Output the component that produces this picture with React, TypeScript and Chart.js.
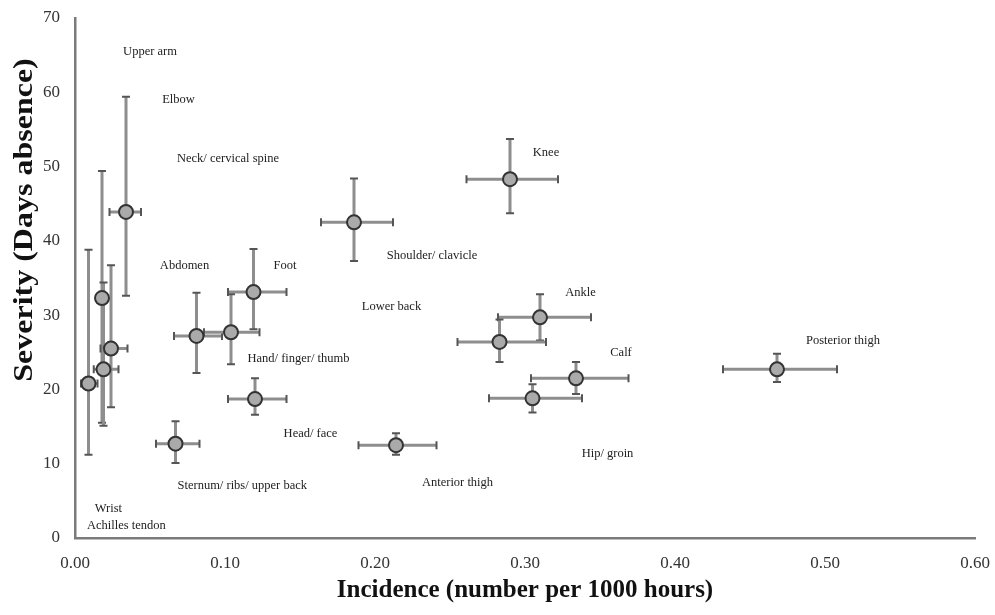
import React, { useEffect, useRef } from "react";
import { Chart, registerables } from "chart.js";

Chart.register(...registerables);

// Injury locations (labels) and their label anchor positions in data units
const labelNames = [
  "Upper arm", "Elbow", "Neck/ cervical spine", "Abdomen", "Foot", "Knee",
  "Shoulder/ clavicle", "Lower back", "Ankle", "Hand/ finger/ thumb",
  "Posterior thigh", "Calf", "Head/ face", "Hip/ groin",
  "Sternum/ ribs/ upper back", "Anterior thigh", "Wrist", "Achilles tendon",
];
const labelX = [0.050, 0.069, 0.102, 0.073, 0.140, 0.314, 0.238, 0.211, 0.337, 0.149, 0.512, 0.364, 0.157, 0.355, 0.1115, 0.255, 0.0223, 0.0343];
const labelY = [65.5, 59.0, 51.0, 36.7, 36.6, 51.8, 38.0, 31.2, 33.0, 24.2, 26.6, 24.9, 14.0, 11.4, 7.1, 7.5, 4.0, 1.6];

// Points: incidence (x) and severity (y) with confidence intervals
const incidence = [0.034, 0.018, 0.024, 0.019, 0.009, 0.119, 0.081, 0.104, 0.120, 0.067, 0.186, 0.290, 0.310, 0.283, 0.334, 0.305, 0.214, 0.468];
const severity = [43.9, 32.3, 25.5, 22.7, 20.8, 33.1, 27.2, 27.7, 18.7, 12.7, 42.5, 48.3, 29.7, 26.4, 21.5, 18.8, 12.5, 22.7];
const xLow = [0.023, 0.014, 0.017, 0.0125, 0.004, 0.102, 0.066, 0.086, 0.102, 0.054, 0.164, 0.261, 0.282, 0.255, 0.304, 0.276, 0.189, 0.432];
const xHigh = [0.044, 0.022, 0.035, 0.029, 0.015, 0.141, 0.098, 0.123, 0.141, 0.083, 0.212, 0.322, 0.344, 0.314, 0.369, 0.338, 0.241, 0.508];
const yLow = [32.6, 15.5, 17.6, 15.1, 11.2, 28.1, 22.2, 23.4, 16.6, 10.1, 37.3, 43.7, 26.6, 23.7, 19.4, 16.9, 11.2, 21.0];
const yHigh = [59.4, 49.4, 36.7, 34.4, 38.8, 38.9, 33.0, 32.8, 21.5, 15.7, 48.4, 53.7, 32.8, 29.4, 23.7, 20.7, 14.1, 24.8];

const xTitle = "Incidence (number per 1000 hours)";
const yTitle = "Severity (Days absence)";

const SERIF = '"Liberation Serif", "Times New Roman", serif';

const errorBarsPlugin = {
  id: "errorBars",
  beforeDatasetsDraw(chart: any) {
    const { ctx, scales } = chart;
    const x = scales.x;
    const y = scales.y;
    ctx.save();
    const cap = 4;
    for (let i = 0; i < incidence.length; i++) {
      const cx = x.getPixelForValue(incidence[i]);
      const cy = y.getPixelForValue(severity[i]);
      const xl = x.getPixelForValue(xLow[i]);
      const xh = x.getPixelForValue(xHigh[i]);
      const yl = y.getPixelForValue(yLow[i]);
      const yh = y.getPixelForValue(yHigh[i]);
      ctx.strokeStyle = "#8e8e8e";
      ctx.lineWidth = 3;
      ctx.beginPath();
      ctx.moveTo(xl, cy);
      ctx.lineTo(xh, cy);
      ctx.moveTo(cx, yh);
      ctx.lineTo(cx, yl);
      ctx.stroke();
      ctx.strokeStyle = "#555";
      ctx.lineWidth = 2;
      ctx.beginPath();
      ctx.moveTo(xl, cy - cap);
      ctx.lineTo(xl, cy + cap);
      ctx.moveTo(xh, cy - cap);
      ctx.lineTo(xh, cy + cap);
      ctx.moveTo(cx - cap, yl);
      ctx.lineTo(cx + cap, yl);
      ctx.moveTo(cx - cap, yh);
      ctx.lineTo(cx + cap, yh);
      ctx.stroke();
    }
    ctx.restore();
  },
};

const labelsPlugin = {
  id: "pointLabels",
  afterDatasetsDraw(chart: any) {
    const { ctx, scales } = chart;
    ctx.save();
    ctx.font = `12.5px ${SERIF}`;
    ctx.fillStyle = "#222";
    ctx.textAlign = "center";
    ctx.textBaseline = "middle";
    for (let i = 0; i < labelNames.length; i++) {
      ctx.fillText(labelNames[i], scales.x.getPixelForValue(labelX[i]), scales.y.getPixelForValue(labelY[i]));
    }
    ctx.restore();
  },
};

const yTitlePlugin = {
  id: "yTitle",
  afterDraw(chart: any) {
    const { ctx } = chart;
    ctx.save();
    ctx.translate(25, 220);
    ctx.rotate(-Math.PI / 2);
    ctx.scale(1, 0.85);
    ctx.font = `bold 32px ${SERIF}`;
    ctx.fillStyle = "#111";
    ctx.textAlign = "center";
    ctx.textBaseline = "middle";
    ctx.fillText(yTitle, 0, 0);
    ctx.restore();
  },
};

export default function App() {
  const canvasRef = useRef<HTMLCanvasElement | null>(null);

  useEffect(() => {
    if (!canvasRef.current) return;
    const points = incidence.map((v, i) => ({ x: v, y: severity[i] }));
    const chart = new Chart(canvasRef.current, {
      type: "scatter",
      data: {
        datasets: [
          {
            data: points,
            pointRadius: 7,
            pointHoverRadius: 7,
            pointBackgroundColor: "#aaaaaa",
            pointBorderColor: "#333",
            pointBorderWidth: 2,
          },
        ],
      },
      options: {
        animation: false,
        responsive: true,
        maintainAspectRatio: false,
        layout: { padding: { left: 0, right: 20, top: 18, bottom: 0 } },
        plugins: {
          legend: { display: false },
          tooltip: { enabled: false },
        },
        scales: {
          x: {
            type: "linear",
            min: 0,
            max: 0.6,
            grid: { display: false, drawTicks: false, tickLength: 0 },
            border: { display: true, color: "#7a7a7a", width: 2.5 },
            ticks: {
              stepSize: 0.1,
              padding: 15,
              color: "#333",
              font: { family: SERIF, size: 17 },
              callback: (v: any) => Number(v).toFixed(2),
            },
            title: {
              display: true,
              text: xTitle,
              color: "#111",
              font: { family: SERIF, size: 25, weight: "bold" },
              padding: { top: 0, bottom: 9 },
            },
            afterFit: (scale: any) => {
              scale.height = 77;
              scale.paddingLeft = 0;
              scale.paddingRight = 0;
            },
          },
          y: {
            type: "linear",
            min: 0,
            max: 70,
            grid: { display: false, drawTicks: false, tickLength: 0 },
            border: { display: true, color: "#7a7a7a", width: 2.5 },
            ticks: {
              stepSize: 10,
              padding: 15,
              color: "#333",
              font: { family: SERIF, size: 17 },
            },
            afterFit: (scale: any) => {
              scale.width = 75;
              scale.paddingTop = 0;
              scale.paddingBottom = 0;
            },
          },
        },
      },
      plugins: [errorBarsPlugin, labelsPlugin, yTitlePlugin],
    });
    return () => chart.destroy();
  }, []);

  return (
    <div style={{ position: "fixed", left: 0, top: 0, width: 995, height: 615, background: "#fff" }}>
      <canvas ref={canvasRef} />
    </div>
  );
}
